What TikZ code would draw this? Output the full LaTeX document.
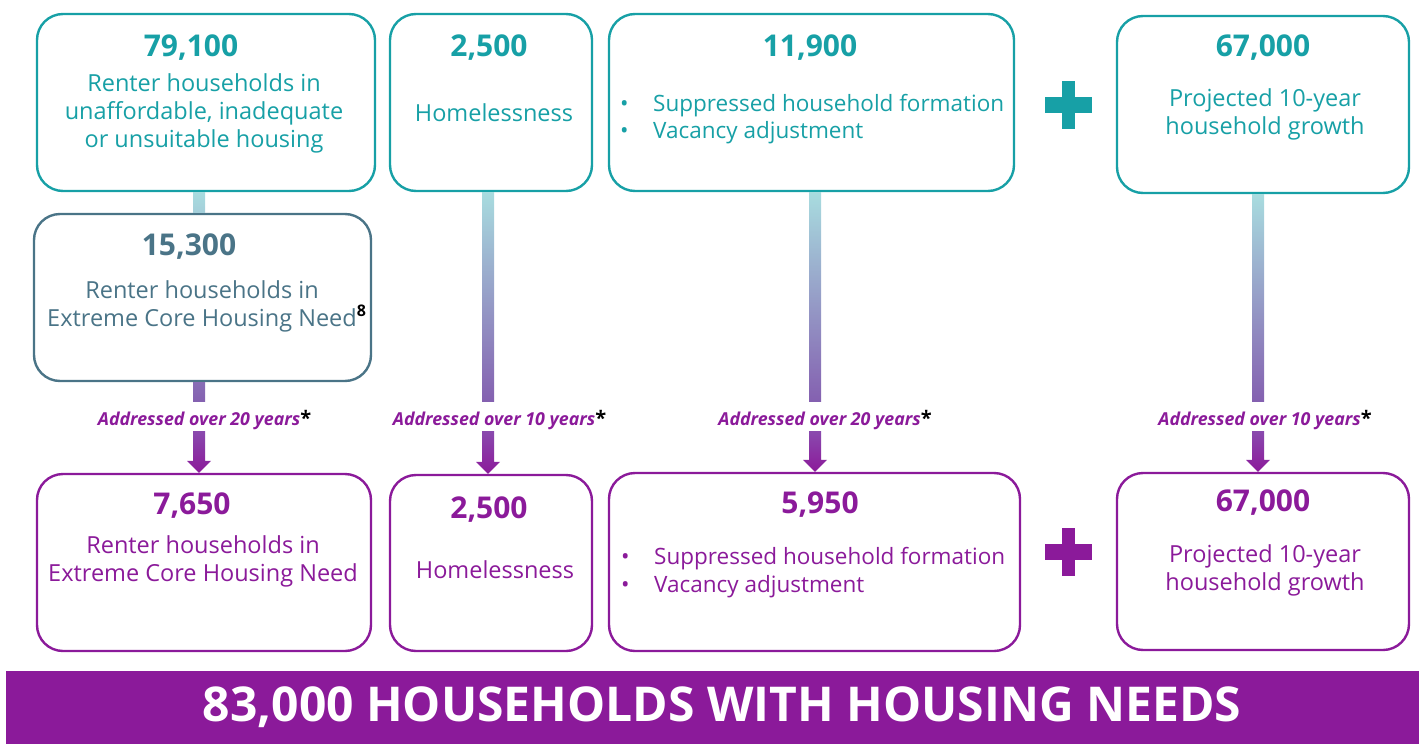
\documentclass[tikz,border=0pt]{standalone}
\usepackage{fontspec}
\setmainfont{Open Sans}
\usetikzlibrary{calc}

\definecolor{tealc}{HTML}{17A0A6}
\definecolor{slatec}{HTML}{4A7487}
\definecolor{purplec}{HTML}{8B1A9A}
\definecolor{bartop}{HTML}{A8DCDF}
\definecolor{barbot}{HTML}{8460B0}
\definecolor{arrtop}{HTML}{8A4AAE}

\tikzset{
  card/.style={draw=#1, line width=2.4pt, rounded corners=26pt, fill=white, inner sep=0pt},
  numtext/.style={text=#1, font=\fontsize{30}{32}\selectfont\bfseries, inner sep=0pt, anchor=base},
  bodytext/.style={text=#1, font=\fontsize{23.5}{27.8}\selectfont, align=center, inner sep=0pt, anchor=base},
  listtext/.style={text=#1, font=\fontsize{22.5}{27.5}\selectfont, align=left, inner sep=0pt, anchor=base west},
  yearlabel/.style={text=purplec, font=\fontsize{17.8}{20}\selectfont\bfseries\itshape, inner sep=0pt, minimum height=29pt},
  plussign/.style={fill=#1},
}
\newcommand{\starmark}{\textup{\color{black}\fontsize{20}{20}\selectfont*}}
\newcommand{\lbul}{\makebox[33pt][l]{\textbullet}}
% label text with its baseline 8.5pt below the label's centre
\newcommand{\yearstext}[1]{\raisebox{-8.5pt}[0pt][0pt]{Addressed over #1 years\starmark}}

% vertical gradient bar between two points, 12 wide
\newcommand{\gbar}[4]{\shade[top color=#3, bottom color=#4] ($(#1)+(-6,0)$) rectangle ($(#2)+(6,0)$);}
% downward arrow from a point to a point
\newcommand{\darrow}[2]{\shade[top color=arrtop, bottom color=purplec]
  ($(#1)+(-6,0)$) -- ($(#2)+(-6,-12)$) -- ($(#2)+(-12,-12)$) -- (#2) --
  ($(#2)+(12,-12)$) -- ($(#2)+(6,-12)$) -- ($(#1)+(6,0)$) -- cycle;}

\begin{document}
\begin{tikzpicture}[x=1pt,y=-1pt]
\useasboundingbox (0,0) rectangle (1419,744);

% ---- top row ----
\node[card=tealc, minimum width=338pt, minimum height=177pt] (A) at (206,102.5) {};
\node[card=tealc, minimum width=202pt, minimum height=177pt] (B) at (491,102.5) {};
\node[card=tealc, minimum width=405pt, minimum height=177pt] (C) at (811.5,102.5) {};
\node[card=tealc, minimum width=292pt, minimum height=177pt] (D) at (1263,104.5) {};

% ---- bottom row ----
\node[card=purplec, minimum width=334pt, minimum height=177pt] (F) at (204,562.5) {};
\node[card=purplec, minimum width=202pt, minimum height=176pt] (G) at (491,563) {};
\node[card=purplec, minimum width=411pt, minimum height=178pt] (H) at (814.5,562) {};
\node[card=purplec, minimum width=292pt, minimum height=177pt] (I) at (1263,561.5) {};

% ---- labels on the connectors ----
\node[yearlabel] (LA) at (204.5,416.5) {\yearstext{20}};
\node[yearlabel] (LB) at (499.5,416.5) {\yearstext{10}};
\node[yearlabel] (LC) at (825,416.5) {\yearstext{20}};
\node[yearlabel] (LD) at (1265,416.5) {\yearstext{10}};

% column anchors for the connectors
\coordinate (xa) at (199,0);
\coordinate (xb) at (488,0);
\coordinate (xc) at (815,0);
\coordinate (xd) at (1258,0);

% ---- extreme core housing need card, sits between A and F ----
\node[card=slatec, minimum width=337pt, minimum height=167pt] (E) at (202.5,297.5) {};

% ---- connectors ----
\gbar{A.south -| xa}{E.north -| xa}{bartop}{barbot!11!bartop}
\gbar{E.south -| xa}{LA.north -| xa}{barbot!89!bartop}{barbot}
\gbar{B.south -| xb}{LB.north -| xb}{bartop}{barbot}
\gbar{C.south -| xc}{LC.north -| xc}{bartop}{barbot}
\gbar{D.south -| xd}{LD.north -| xd}{bartop}{barbot}

\darrow{LA.south -| xa}{F.north -| xa}
\darrow{LB.south -| xb}{G.north -| xb}
\darrow{LC.south -| xc}{H.north -| xc}
\darrow{LD.south -| xd}{I.north -| xd}

% ---- card contents: top row (base = last line) ----
\node[numtext=tealc] at (191,56.5) {79,100};
\node[bodytext=tealc] at (204,147) {Renter households in\\unaffordable, inadequate\\or unsuitable housing};

\node[numtext=tealc] at (489,56.5) {2,500};
\node[bodytext=tealc] at (494,121) {Homelessness};

\node[numtext=tealc] at (810,56.5) {11,900};
\node[listtext=tealc] at (620,138.5) {\lbul Suppressed household formation\\\lbul Vacancy adjustment};

\node[numtext=tealc] at (1263,56.5) {67,000};
\node[bodytext=tealc] at (1265,134) {Projected 10-year\\household growth};

% ---- card contents: middle ----
\node[numtext=slatec] at (189,255.5) {15,300};
\node[bodytext=slatec] at (202,326) {Renter households in\\Extreme Core Housing Need\rlap{\raisebox{9.5pt}{\color{black}\fontsize{16}{16}\selectfont\bfseries 8}}};

% ---- card contents: bottom row ----
\node[numtext=purplec] at (192,514.5) {7,650};
\node[bodytext=purplec] at (203,581) {Renter households in\\Extreme Core Housing Need};

\node[numtext=purplec] at (489,518.5) {2,500};
\node[bodytext=purplec] at (495,578) {Homelessness};

\node[numtext=purplec] at (820,513.5) {5,950};
\node[listtext=purplec] at (621,592) {\lbul Suppressed household formation\\\lbul Vacancy adjustment};

\node[numtext=purplec] at (1263,511.5) {67,000};
\node[bodytext=purplec] at (1265,590) {Projected 10-year\\household growth};

% ---- plus signs ----
\fill[plussign=tealc] (1061.5,81) rectangle (1075,129);
\fill[plussign=tealc] (1045,97) rectangle (1092,113);
\fill[plussign=purplec] (1061.5,528) rectangle (1075,576);
\fill[plussign=purplec] (1045,544) rectangle (1092,560);

% ---- total banner ----
\node[fill=purplec, minimum width=1413pt, minimum height=73pt, inner sep=0pt,
      text=white, font=\fontsize{48}{50}\selectfont\bfseries] (T) at (712.5,707.5)
      {\hspace*{19pt}83,000 HOUSEHOLDS WITH HOUSING NEEDS};
\end{tikzpicture}
\end{document}
